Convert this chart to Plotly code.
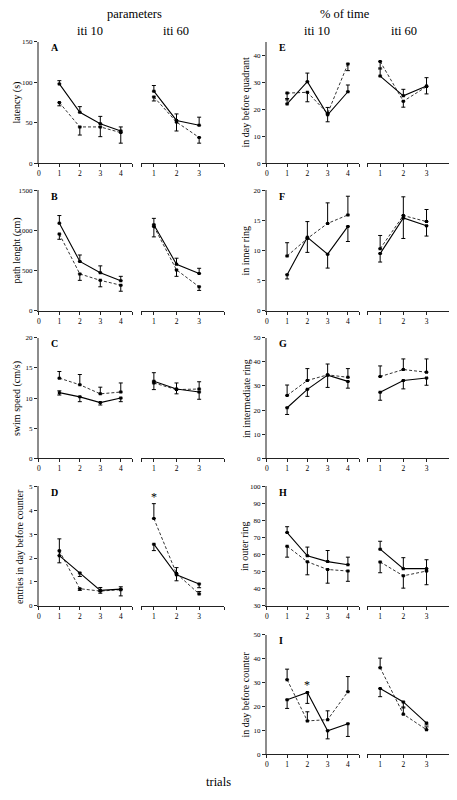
import plotly.graph_objects as go

# page has an 8px default body margin; figure is sized/offset to compensate
OFF = 8
W, H = 457 - OFF, 800 - OFF
FONT = "Liberation Serif"

TRIALS_ITI10 = [1, 2, 3, 4]
TRIALS_ITI60 = [1, 2, 3]

# ---------------- data (values, error up, error down) ----------------
# A latency
lat10_solid = [98, 63, 49, 40];       lat10_solid_up = [4, 7, 9, 5];        lat10_solid_dn = [0, 0, 0, 0]
lat10_dash = [75, 45, 45, 38];        lat10_dash_up = [0, 0, 0, 0];         lat10_dash_dn = [4, 10, 12, 13]
lat60_solid = [89, 53, 47];           lat60_solid_up = [7, 8, 10];          lat60_solid_dn = [0, 0, 0]
lat60_dash = [82, 51, 32];            lat60_dash_up = [0, 0, 0];            lat60_dash_dn = [5, 11, 7]
# B path length
path10_solid = [1090, 615, 475, 375]; path10_solid_up = [95, 80, 85, 55];   path10_solid_dn = [0, 0, 0, 0]
path10_dash = [955, 460, 380, 320];   path10_dash_up = [0, 0, 0, 0];        path10_dash_dn = [65, 80, 80, 75]
path60_solid = [1070, 580, 465];      path60_solid_up = [80, 75, 65];       path60_solid_dn = [0, 0, 0]
path60_dash = [1050, 510, 300];       path60_dash_up = [0, 0, 0];           path60_dash_dn = [130, 80, 45]
# C swim speed
speed10_solid = [10.9, 10.2, 9.25, 10.0]; speed10_solid_up = [0.3, 0, 0, 0]; speed10_solid_dn = [0.4, 0.8, 0.4, 0.6]
speed10_dash = [13.3, 12.2, 10.7, 11.0];  speed10_dash_up = [1.1, 1.7, 1.1, 1.5]; speed10_dash_dn = [0, 0, 0, 0]
speed60_solid = [12.8, 11.5, 11.0];   speed60_solid_up = [1.4, 1.0, 0];     speed60_solid_dn = [0, 0, 1.2]
speed60_dash = [12.5, 11.4, 11.5];    speed60_dash_up = [0, 0, 1.2];        speed60_dash_dn = [1.1, 0.7, 0]
# D entries in day before counter
entr10_solid = [2.1, 1.38, 0.65, 0.7]; entr10_solid_up = [0.7, 0, 0.12, 0]; entr10_solid_dn = [0, 0.15, 0.12, 0.28]
entr10_dash = [2.3, 0.72, 0.62, 0.68]; entr10_dash_up = [0, 0, 0, 0.12];    entr10_dash_dn = [0.5, 0.07, 0, 0]
entr60_solid = [2.58, 1.3, 0.92];     entr60_solid_up = [0, 0, 0];          entr60_solid_dn = [0.27, 0.25, 0.16]
entr60_dash = [3.65, 1.35, 0.5];      entr60_dash_up = [0.62, 0.25, 0.1];   entr60_dash_dn = [0, 0, 0]
entr60_star = [1, 4.55]
# E in day before quadrant
quad10_solid = [22, 30.2, 18, 26.5];  quad10_solid_up = [2, 3.2, 0, 2.5];   quad10_solid_dn = [0, 0, 2.6, 0]
quad10_dash = [26, 26.3, 18.5, 36.8]; quad10_dash_up = [0, 0, 2.2, 0];      quad10_dash_dn = [2.5, 3.5, 0, 2.5]
quad60_solid = [32.3, 25, 28.6];      quad60_solid_up = [3, 2.4, 3.1];      quad60_solid_dn = [0, 0, 0]
quad60_dash = [37.7, 23, 28.4];       quad60_dash_up = [0, 0, 0];           quad60_dash_dn = [2.8, 2.2, 2.7]
# F in inner ring
inner10_solid = [6.0, 12.2, 9.4, 14.0];  inner10_solid_up = [0, 0, 0, 0];   inner10_solid_dn = [0.7, 2.5, 2.3, 2.5]
inner10_dash = [9.1, 12.0, 14.5, 15.9];  inner10_dash_up = [2.2, 2.8, 3.4, 3.1]; inner10_dash_dn = [0, 0, 0, 0]
inner60_solid = [9.5, 15.4, 14.1];    inner60_solid_up = [0, 0, 0];         inner60_solid_dn = [1.4, 3.4, 1.7]
inner60_dash = [10.3, 15.8, 14.8];    inner60_dash_up = [2.2, 3.1, 2.0];    inner60_dash_dn = [0, 0, 0]
# G in intermediate ring
inter10_solid = [21.0, 28.6, 34.5, 31.9]; inter10_solid_up = [0, 0, 0, 0]; inter10_solid_dn = [2.8, 2.9, 5.1, 2.8]
inter10_dash = [26.1, 32.3, 34.6, 33.6];  inter10_dash_up = [4.3, 4.9, 4.5, 3.6]; inter10_dash_dn = [0, 0, 0, 0]
inter60_solid = [27.4, 32.3, 33.3];   inter60_solid_up = [0, 0, 0];         inter60_solid_dn = [3.3, 3.5, 3.0]
inter60_dash = [33.9, 36.8, 35.7];    inter60_dash_up = [4.4, 4.4, 5.5];    inter60_dash_dn = [0, 0, 0]
# H in outer ring
outer10_solid = [72.9, 59.3, 55.9, 54.1]; outer10_solid_up = [3.4, 5.1, 6.5, 4.4]; outer10_solid_dn = [0, 0, 0, 0]
outer10_dash = [64.9, 55.8, 51.3, 50.4];  outer10_dash_up = [0, 0, 0, 0];  outer10_dash_dn = [6.4, 7.6, 8.0, 6.0]
outer60_solid = [63.2, 51.8, 51.8];   outer60_solid_up = [4.6, 6.4, 5.2];   outer60_solid_dn = [0, 0, 0]
outer60_dash = [55.7, 47.6, 50.4];    outer60_dash_up = [0, 0, 0];          outer60_dash_dn = [6.3, 7.2, 8.0]
# I in day before counter
count10_solid = [22.8, 25.9, 9.9, 12.8];  count10_solid_up = [0, 0, 0, 0]; count10_solid_dn = [3.6, 4.6, 3.4, 5.3]
count10_dash = [31.2, 14.0, 14.5, 26.2];  count10_dash_up = [4.4, 3.8, 3.7, 6.3]; count10_dash_dn = [0, 0, 0, 0]
count60_solid = [27.5, 21.9, 13.1];   count60_solid_up = [0, 0, 0];         count60_solid_dn = [3.4, 2.5, 0.8]
count60_dash = [36.2, 16.8, 10.3];    count60_dash_up = [4.0, 3.0, 1.2];    count60_dash_dn = [0, 0, 0]
count10_star = [2, 28.8]

# ---------------- layout geometry (window pixels) ----------------
LEFT_X = [(37, 131), (140, 223)]
RIGHT_X = [(266, 359), (367, 452)]
ROW_Y = [(38, 161), (188, 310), (337, 459), (487, 608), (637, 758)]
X1_RANGE = [0, 4.57]
X2_RANGE = [0.45, 4.1]

fig = go.Figure()
layout = {}
annotations = []
counter = [0]


def px_x(p):
    return (p - OFF) / W


def px_y(p):
    return 1 - (p - OFF) / H


def add_series(k, xs, vals, up, dn, dashed):
    fig.add_trace(go.Scatter(
        x=xs, y=vals, mode="lines+markers",
        xaxis=f"x{k}", yaxis=f"y{k}",
        line=dict(color="black", width=0.8 if dashed else 1.1,
                  dash="3px,2px" if dashed else "solid"),
        marker=dict(symbol="square", size=3, color="black"),
        error_y=dict(type="data", symmetric=False, array=up, arrayminus=dn,
                     color="black", thickness=1, width=2),
        showlegend=False, hoverinfo="skip"))


def add_panel(xcols, row, yrange, ytickvals, ytitle, letter, s10, s60, ylabel_x):
    y0, y1 = ROW_Y[row]
    first_k = None
    for sub, (xs_px, series, trials, xr) in enumerate(
            [(xcols[0], s10, TRIALS_ITI10, X1_RANGE), (xcols[1], s60, TRIALS_ITI60, X2_RANGE)]):
        counter[0] += 1
        k = counter[0]
        name = "" if k == 1 else str(k)
        if sub == 0:
            tv = [0, 1, 2, 3, 4, xr[1]]
            tt = ["0", "1", "2", "3", "4", ""]
        else:
            tv = [xr[0], 1, 2, 3, xr[1]]
            tt = ["", "1", "2", "3", ""]
        layout["xaxis" + name] = dict(
            domain=[px_x(xs_px[0]), px_x(xs_px[1])], range=xr, anchor=f"y{k}",
            showline=True, linecolor="#222", linewidth=1, ticks="outside", ticklen=3,
            tickwidth=1, tickcolor="#222", tickvals=tv, ticktext=tt,
            tickfont=dict(family=FONT, size=7.5, color="black"),
            showgrid=False, zeroline=False, fixedrange=True)
        layout["yaxis" + name] = dict(
            domain=[px_y(y1), px_y(y0)], range=yrange, anchor=f"x{k}",
            showline=(sub == 0), linecolor="#8c8c8c", linewidth=2,
            ticks="outside" if sub == 0 else "", ticklen=3, tickwidth=1, tickcolor="#222",
            tickvals=ytickvals, showticklabels=(sub == 0),
            tickfont=dict(family=FONT, size=7, color="black"),
            showgrid=False, zeroline=False, fixedrange=True)
        for vals, up, dn, dashed in series:
            add_series(k, trials, vals, up, dn, dashed)
        if sub == 0:
            first_k = k
    annotations.append(dict(
        text=f"<b>{letter}</b>", x=px_x(xcols[0][0] + 10), y=px_y(y0 + 6),
        xref="paper", yref="paper", xanchor="left", yanchor="middle", showarrow=False,
        font=dict(family=FONT, size=10, color="black")))
    annotations.append(dict(
        text=ytitle, x=px_x(ylabel_x), y=px_y((y0 + y1) / 2), textangle=-90,
        xref="paper", yref="paper", xanchor="center", yanchor="middle", showarrow=False,
        font=dict(family=FONT, size=10, color="black")))
    return first_k


def S(vals, up, dn, dashed):
    return (vals, up, dn, dashed)


add_panel(LEFT_X, 0, [0, 150], [0, 50, 100, 150], "latency (s)", "A",
          [S(lat10_solid, lat10_solid_up, lat10_solid_dn, False), S(lat10_dash, lat10_dash_up, lat10_dash_dn, True)],
          [S(lat60_solid, lat60_solid_up, lat60_solid_dn, False), S(lat60_dash, lat60_dash_up, lat60_dash_dn, True)], 15)
add_panel(LEFT_X, 1, [0, 1500], [0, 500, 1000, 1500], "path lenght (cm)", "B",
          [S(path10_solid, path10_solid_up, path10_solid_dn, False), S(path10_dash, path10_dash_up, path10_dash_dn, True)],
          [S(path60_solid, path60_solid_up, path60_solid_dn, False), S(path60_dash, path60_dash_up, path60_dash_dn, True)], 15)
add_panel(LEFT_X, 2, [0, 20], [0, 5, 10, 15, 20], "swim speed (cm/s)", "C",
          [S(speed10_solid, speed10_solid_up, speed10_solid_dn, False), S(speed10_dash, speed10_dash_up, speed10_dash_dn, True)],
          [S(speed60_solid, speed60_solid_up, speed60_solid_dn, False), S(speed60_dash, speed60_dash_up, speed60_dash_dn, True)], 15)
kD = add_panel(LEFT_X, 3, [0, 5], [0, 1, 2, 3, 4, 5], "entries in day before counter", "D",
               [S(entr10_solid, entr10_solid_up, entr10_solid_dn, False), S(entr10_dash, entr10_dash_up, entr10_dash_dn, True)],
               [S(entr60_solid, entr60_solid_up, entr60_solid_dn, False), S(entr60_dash, entr60_dash_up, entr60_dash_dn, True)], 17)
add_panel(RIGHT_X, 0, [0, 45], [0, 10, 20, 30, 40], "in day before quadrant", "E",
          [S(quad10_solid, quad10_solid_up, quad10_solid_dn, False), S(quad10_dash, quad10_dash_up, quad10_dash_dn, True)],
          [S(quad60_solid, quad60_solid_up, quad60_solid_dn, False), S(quad60_dash, quad60_dash_up, quad60_dash_dn, True)], 245)
add_panel(RIGHT_X, 1, [0, 20], [0, 5, 10, 15, 20], "in inner ring", "F",
          [S(inner10_solid, inner10_solid_up, inner10_solid_dn, False), S(inner10_dash, inner10_dash_up, inner10_dash_dn, True)],
          [S(inner60_solid, inner60_solid_up, inner60_solid_dn, False), S(inner60_dash, inner60_dash_up, inner60_dash_dn, True)], 245)
add_panel(RIGHT_X, 2, [0, 50], [0, 10, 20, 30, 40, 50], "in intermediate ring", "G",
          [S(inter10_solid, inter10_solid_up, inter10_solid_dn, False), S(inter10_dash, inter10_dash_up, inter10_dash_dn, True)],
          [S(inter60_solid, inter60_solid_up, inter60_solid_dn, False), S(inter60_dash, inter60_dash_up, inter60_dash_dn, True)], 245)
add_panel(RIGHT_X, 3, [30, 100], [30, 40, 50, 60, 70, 80, 90, 100], "in outer ring", "H",
          [S(outer10_solid, outer10_solid_up, outer10_solid_dn, False), S(outer10_dash, outer10_dash_up, outer10_dash_dn, True)],
          [S(outer60_solid, outer60_solid_up, outer60_solid_dn, False), S(outer60_dash, outer60_dash_up, outer60_dash_dn, True)], 243)
kI = add_panel(RIGHT_X, 4, [0, 50], [0, 10, 20, 30, 40, 50], "in day before counter", "I",
               [S(count10_solid, count10_solid_up, count10_solid_dn, False), S(count10_dash, count10_dash_up, count10_dash_dn, True)],
               [S(count60_solid, count60_solid_up, count60_solid_dn, False), S(count60_dash, count60_dash_up, count60_dash_dn, True)], 245)

# significance stars
annotations.append(dict(text="*", x=entr60_star[0], y=entr60_star[1], xref=f"x{kD + 1}", yref=f"y{kD + 1}",
                        showarrow=False, font=dict(family=FONT, size=12, color="black")))
annotations.append(dict(text="*", x=count10_star[0], y=count10_star[1], xref=f"x{kI}", yref=f"y{kI}",
                        showarrow=False, font=dict(family=FONT, size=12, color="black")))

# headers
for text, xp, yp in [("parameters", 133, 10), ("iti 10", 88, 27), ("iti 60", 175, 27),
                     ("% of time", 345, 10), ("iti 10", 316, 27), ("iti 60", 404, 27),
                     ("trials", 217, 786)]:
    annotations.append(dict(text=text, x=px_x(xp), y=px_y(yp), xref="paper", yref="paper",
                            xanchor="center", yanchor="middle", showarrow=False,
                            font=dict(family=FONT, size=12.5, color="black")))

fig.update_layout(
    width=W, height=H, margin=dict(l=0, r=0, t=0, b=0),
    paper_bgcolor="white", plot_bgcolor="white",
    annotations=annotations, **layout)

fig.write_html("out.html")
